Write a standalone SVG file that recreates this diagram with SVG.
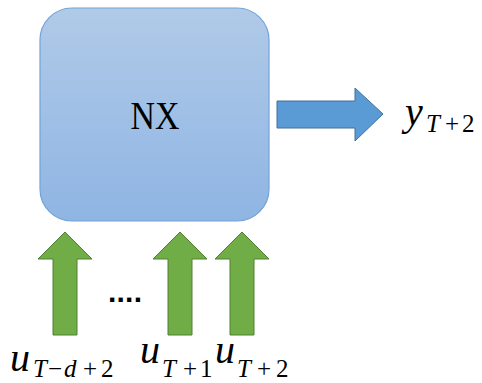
<svg xmlns="http://www.w3.org/2000/svg" width="482" height="383" viewBox="0 0 482 383">
  <defs>
    <linearGradient id="boxGrad" x1="0" y1="0" x2="0" y2="1">
      <stop offset="0" stop-color="#b0cae8"/>
      <stop offset="1" stop-color="#8fb5e3"/>
    </linearGradient>
  </defs>
  <style>
    .math { font-family: "Liberation Serif", "DejaVu Serif", serif; fill: #000; }
    .it { font-style: italic; }
    .main { font-size: 40px; }
    .sub { font-size: 25px; }
    .green { fill: #70ad47; stroke: #507e32; stroke-width: 1; }
    .blue { fill: #5b9bd5; stroke: #41719c; stroke-width: 1; }
  </style>
  <rect width="482" height="383" fill="#ffffff"/>

  <g id="nx">
    <rect x="40" y="8" width="229" height="213" rx="32" ry="32" fill="url(#boxGrad)" stroke="#74a2d8" stroke-width="1.2"/>
    <text x="155" y="129" text-anchor="middle" font-family="Liberation Serif, DejaVu Serif, serif" font-size="41" textLength="49" lengthAdjust="spacingAndGlyphs">NX</text>
  </g>

  <g id="connectors">
    <polygon class="blue" points="277,101 355,101 355,88 383,114 355,141 355,128 277,128"/>
    <polygon class="green" points="65,232 92,259 77,259 77,335 53,335 53,259 38,259"/>
    <polygon class="green" points="180,232 207,259 192,259 192,335 168,335 168,259 153,259"/>
    <polygon class="green" points="242,232 269,259 254,259 254,335 230,335 230,259 215,259"/>
  </g>

  <g id="dots">
    <text x="108" y="302" font-family="Liberation Sans, Arial, sans-serif" font-size="30" font-weight="bold" textLength="34" lengthAdjust="spacing">....</text>
  </g>

  <g id="y-out">
    <text class="math"><tspan class="main it" x="405" y="125">y</tspan><tspan class="sub it" x="426" y="132">T</tspan><tspan class="sub" x="445" y="132">+</tspan><tspan class="sub" x="462" y="132">2</tspan></text>
  </g>

  <g id="u1">
    <text class="math"><tspan class="main it" x="10" y="371">u</tspan><tspan class="sub it" x="33" y="377">T</tspan><tspan class="sub" x="48" y="377">−</tspan><tspan class="sub it" x="64" y="377">d</tspan><tspan class="sub" x="83" y="377">+</tspan><tspan class="sub" x="101" y="377">2</tspan></text>
  </g>
  <g id="u2">
    <text class="math"><tspan class="main it" x="140" y="363">u</tspan><tspan class="sub it" x="162" y="377">T</tspan><tspan class="sub" x="183" y="377">+</tspan><tspan class="sub" x="200" y="377">1</tspan></text>
  </g>
  <g id="u3">
    <text class="math"><tspan class="main it" x="215" y="363">u</tspan><tspan class="sub it" x="237" y="377">T</tspan><tspan class="sub" x="257" y="377">+</tspan><tspan class="sub" x="276" y="377">2</tspan></text>
  </g>
</svg>
